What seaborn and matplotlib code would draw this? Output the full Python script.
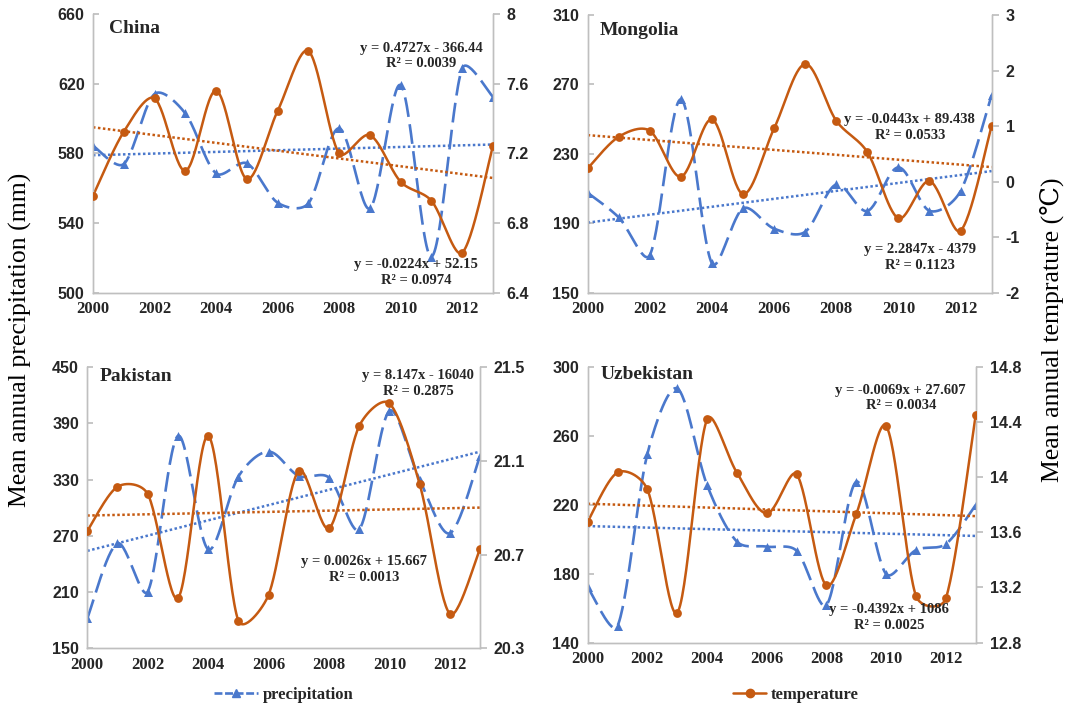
import numpy as np
import pandas as pd
import matplotlib
matplotlib.use("Agg")
import matplotlib.pyplot as plt
from matplotlib.lines import Line2D
import seaborn as sns

# ---------------- data ----------------
years = list(range(2000, 2014))

china_precip = [584.4, 573.9, 614.1, 603.0, 568.5, 574.3, 551.7, 551.3, 594.4, 548.4, 619.2, 520.7, 628.8, 612.5]
china_temp = [6.957, 7.324, 7.516, 7.100, 7.560, 7.053, 7.443, 7.788, 7.200, 7.305, 7.037, 6.928, 6.630, 7.242]

mongolia_precip = [207.6, 193.4, 171.7, 261.4, 166.9, 198.6, 186.9, 185.1, 212.4, 197.1, 222.2, 197.2, 208.6, 263.9]
mongolia_temp = [0.239, 0.809, 0.917, 0.089, 1.121, -0.223, 0.959, 2.118, 1.097, 0.533, -0.661, 0.011, -0.884, 1.001]

pakistan_precip = [182.0, 262.1, 210.5, 376.7, 255.7, 333.3, 360.0, 334.0, 332.2, 277.0, 403.4, 330.0, 272.8, 355.3]
pakistan_temp = [20.801, 20.990, 20.959, 20.514, 21.207, 20.418, 20.528, 21.059, 20.812, 21.249, 21.346, 21.002, 20.447, 20.723]

uzbek_precip = [172.1, 149.7, 249.4, 287.4, 231.4, 198.6, 195.7, 193.3, 161.8, 233.3, 179.8, 193.7, 197.2, 219.8]
uzbek_temp = [13.677, 14.034, 13.911, 13.017, 14.418, 14.032, 13.737, 14.020, 13.215, 13.732, 14.370, 13.138, 13.121, 14.450]

countries = ["China", "Mongolia", "Pakistan", "Uzbekistan"]

# printed linear trends (slope, intercept)
precip_slope = [0.4727, 2.2847, 8.147, -0.4392]
precip_icpt = [-366.44, -4379.0, -16040.0, 1086.0]
temp_slope = [-0.0224, -0.0443, 0.0026, -0.0069]
temp_icpt = [52.15, 89.438, 15.667, 27.607]

precip_eq = ["y = 0.4727x - 366.44\nR² = 0.0039",
             "y = 2.2847x - 4379\nR² = 0.1123",
             "y = 8.147x - 16040\nR² = 0.2875",
             "y = -0.4392x + 1086\nR² = 0.0025"]
temp_eq = ["y = -0.0224x + 52.15\nR² = 0.0974",
           "y = -0.0443x + 89.438\nR² = 0.0533",
           "y = 0.0026x + 15.667\nR² = 0.0013",
           "y = -0.0069x + 27.607\nR² = 0.0034"]

left_ticks = [[500, 540, 580, 620, 660],
              [150, 190, 230, 270, 310],
              [150, 210, 270, 330, 390, 450],
              [140, 180, 220, 260, 300]]
right_ticks = [[6.4, 6.8, 7.2, 7.6, 8.0],
               [-2, -1, 0, 1, 2, 3],
               [20.3, 20.7, 21.1, 21.5],
               [12.8, 13.2, 13.6, 14.0, 14.4, 14.8]]
right_labels = [["6.4", "6.8", "7.2", "7.6", "8"],
                ["-2", "-1", "0", "1", "2", "3"],
                ["20.3", "20.7", "21.1", "21.5"],
                ["12.8", "13.2", "13.6", "14", "14.4", "14.8"]]
x_ticks = [2000, 2002, 2004, 2006, 2008, 2010, 2012]

precip_all = [china_precip, mongolia_precip, pakistan_precip, uzbek_precip]
temp_all = [china_temp, mongolia_temp, pakistan_temp, uzbek_temp]

# ---------------- layout / style ----------------
FIG_W, FIG_H = 1071, 710
axes_pos = [[0.0868, 0.5877, 0.3735, 0.3925],
            [0.5487, 0.5877, 0.3772, 0.3911],
            [0.0815, 0.0869, 0.3667, 0.3958],
            [0.5487, 0.0948, 0.3623, 0.3887]]
title_pos = [(0.04, 0.948), (0.03, 0.946), (0.032, 0.967), (0.034, 0.97)]
peq_pos = [(2010.66, 636), (2010.68, 170.2), (2010.96, 432.6), (2010.1, 154.7)]
teq_pos = [(2010.5, 511.5), (2010.37, 245.3), (2009.17, 234.3), (2010.49, 282)]

BLUE = "#4A78CC"
ORANGE = "#C55A11"
SPINE = "#BFBFBF"
TXT = "#262626"

sns.set_theme(style="white")
plt.rcParams["font.family"] = ["Liberation Serif", "DejaVu Serif"]

SERIF_B = dict(family=["Liberation Serif", "DejaVu Serif"], weight="bold")
NARROW_B = dict(family=["Liberation Sans Narrow", "Liberation Sans", "DejaVu Sans"], weight="bold")


def smooth(x, y, xlim, ylim, wpx, hpx, n=30, expo=0.7):
    """Excel-like smoothed line: cubic Bezier with tangents built in screen space."""
    x = np.asarray(x, float)
    y = np.asarray(y, float)
    P = np.column_stack([(x - xlim[0]) / (xlim[1] - xlim[0]) * wpx,
                         (y - ylim[0]) / (ylim[1] - ylim[0]) * hpx])
    m = len(P)
    d = np.linalg.norm(np.diff(P, axis=0), axis=1)
    cout = np.zeros_like(P)
    cin = np.zeros_like(P)
    for i in range(m):
        prev = P[max(i - 1, 0)]
        nxt = P[min(i + 1, m - 1)]
        T = (nxt - prev) / 6.0
        if 0 < i < m - 1:
            s = d[i - 1] + d[i]
            fo = min(1.0, 2 * d[i] / s) ** expo
            fi = min(1.0, 2 * d[i - 1] / s) ** expo
        else:
            fo = fi = 1.0
        cout[i] = P[i] + T * fo
        cin[i] = P[i] - T * fi
    segs = []
    for i in range(m - 1):
        p1, p2, c1, c2 = P[i], P[i + 1], cout[i], cin[i + 1]
        t = np.linspace(0, 1, n, endpoint=(i == m - 2))[:, None]
        B = (1 - t) ** 3 * p1 + 3 * (1 - t) ** 2 * t * c1 + 3 * (1 - t) * t ** 2 * c2 + t ** 3 * p2
        segs.append(B)
    S = np.vstack(segs)
    sx = S[:, 0] / wpx * (xlim[1] - xlim[0]) + xlim[0]
    sy = S[:, 1] / hpx * (ylim[1] - ylim[0]) + ylim[0]
    return sx, sy


fig = plt.figure(figsize=(FIG_W / 100, FIG_H / 100), dpi=100)
fig.patch.set_facecolor("white")

yr = np.array(years, float)
for i, name in enumerate(countries):
    ax = fig.add_axes(axes_pos[i])
    ax2 = ax.twinx()
    df = pd.DataFrame({"year": years, "precip": precip_all[i], "temp": temp_all[i]})
    wpx = axes_pos[i][2] * FIG_W
    hpx = axes_pos[i][3] * FIG_H
    xl = (2000, 2013)
    yl1 = (left_ticks[i][0], left_ticks[i][-1])
    yl2 = (right_ticks[i][0], right_ticks[i][-1])

    # precipitation (left axis)
    sx, sy = smooth(df["year"], df["precip"], xl, yl1, wpx, hpx)
    ax.plot(sx, sy, color=BLUE, lw=1.9, ls=(0, (7.5, 2.8)), zorder=2)
    sns.scatterplot(data=df, x="year", y="precip", marker="^", color=BLUE, s=42,
                    linewidth=0, ax=ax, zorder=3, legend=False)
    ax.plot(yr, precip_slope[i] * yr + precip_icpt[i], color=BLUE, lw=1.8,
            ls=(0, (1, 1)), zorder=2)

    # temperature (right axis)
    tx, ty = smooth(df["year"], df["temp"], xl, yl2, wpx, hpx)
    ax2.plot(tx, ty, color=ORANGE, lw=1.8, zorder=2)
    sns.scatterplot(data=df, x="year", y="temp", marker="o", color=ORANGE, s=40,
                    linewidth=0, ax=ax2, zorder=3, legend=False)
    ax2.plot(yr, temp_slope[i] * yr + temp_icpt[i], color=ORANGE, lw=1.8,
             ls=(0, (1, 1)), zorder=2)

    ax.set_xlim(*xl)
    ax.set_ylim(*yl1)
    ax.set_yticks(left_ticks[i])
    ax.set_yticklabels([str(v) for v in left_ticks[i]], fontsize=11.5, color=TXT, **NARROW_B)
    ax.set_xticks(x_ticks)
    ax.set_xticklabels([str(v) for v in x_ticks], fontsize=12, color=TXT, **SERIF_B)
    ax2.set_ylim(*yl2)
    ax2.set_yticks(right_ticks[i])
    ax2.set_yticklabels(right_labels[i], fontsize=11.5, color=TXT, **NARROW_B)
    ax.set_xlabel("")
    ax.set_ylabel("")
    ax2.set_ylabel("")

    for a in (ax, ax2):
        a.spines["top"].set_visible(False)
        for side in ("left", "right", "bottom"):
            a.spines[side].set_color(SPINE)
            a.spines[side].set_linewidth(1.0)
        a.set_facecolor("none")
    ax.tick_params(axis="y", direction="in", length=4, color=SPINE, pad=6)
    ax.tick_params(axis="x", direction="in", length=5, color=SPINE, pad=6)
    ax2.tick_params(axis="y", direction="out", length=5, color=SPINE, pad=5)

    ax.text(title_pos[i][0], title_pos[i][1], name, transform=ax.transAxes,
            ha="left", va="center", fontsize=14, color=TXT, **SERIF_B)
    ax2.text(peq_pos[i][0], peq_pos[i][1], precip_eq[i], transform=ax.transData,
             ha="center", va="center", fontsize=10.5, color=TXT, linespacing=1.25,
             zorder=5, **SERIF_B)
    ax2.text(teq_pos[i][0], teq_pos[i][1], temp_eq[i], transform=ax.transData,
             ha="center", va="center", fontsize=10.5, color=TXT, linespacing=1.25,
             zorder=5, **SERIF_B)

fig.text(0.0187, 0.521, "Mean annual precipitation (mm)", rotation=90,
         ha="center", va="center", fontsize=18.5, color="black",
         family=["Liberation Serif", "DejaVu Serif"])
fig.text(0.982, 0.535, "Mean annual temprature (℃)", rotation=90,
         ha="center", va="center", fontsize=18.5, color="black",
         family=["Liberation Serif", "DejaVu Serif", "DejaVu Sans"])

h1 = Line2D([], [], color=BLUE, lw=1.9, ls=(0, (3, 1)), marker="^", markersize=6)
h2 = Line2D([], [], color=ORANGE, lw=1.8, marker="o", markersize=6)
leg1 = fig.legend([h1], ["precipitation"], loc="center", bbox_to_anchor=(284 / 1071, 1 - 695 / 710),
                  frameon=False, handlelength=2.6, handletextpad=0.3,
                  prop=dict(family=["Liberation Serif", "DejaVu Serif"], weight="bold", size=12))
leg2 = fig.legend([h2], ["temperature"], loc="center", bbox_to_anchor=(796 / 1071, 1 - 695 / 710),
                  frameon=False, handlelength=2.0, handletextpad=0.3,
                  prop=dict(family=["Liberation Serif", "DejaVu Serif"], weight="bold", size=12))
for lg in (leg1, leg2):
    for t in lg.get_texts():
        t.set_color(TXT)

fig.savefig("out.png", dpi=100, facecolor="white")
